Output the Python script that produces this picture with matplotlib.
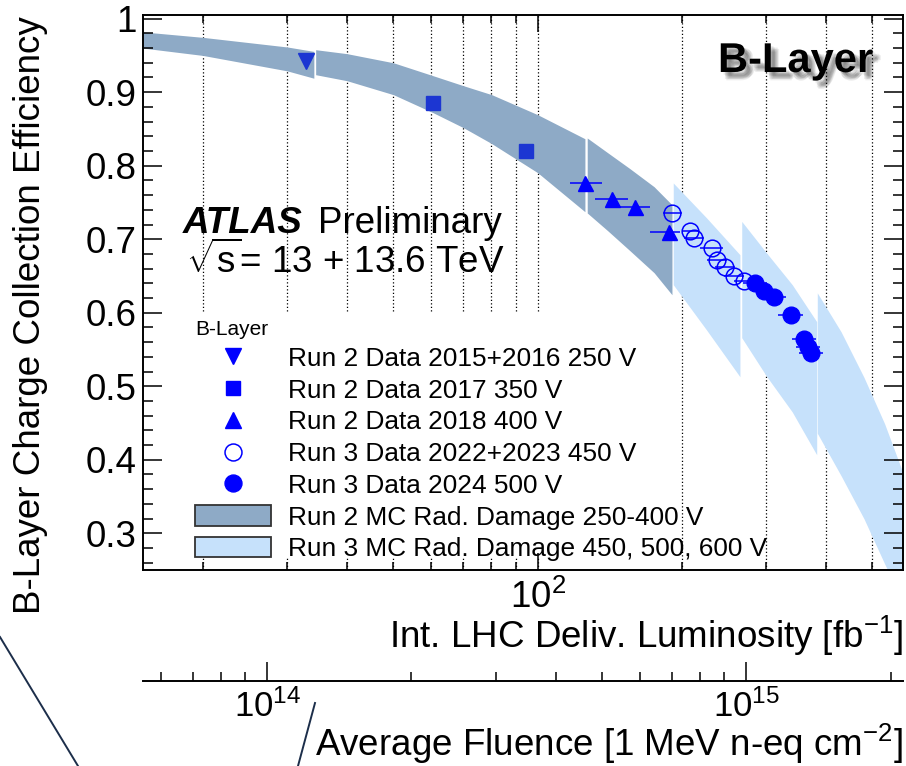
import numpy as np
import matplotlib.pyplot as plt
from matplotlib import ticker
from matplotlib import patheffects as pe
from matplotlib.lines import Line2D
from matplotlib.patches import Patch, Rectangle

plt.rcParams['font.family'] = ['Liberation Sans', 'DejaVu Sans']
plt.rcParams['mathtext.fontset'] = 'custom'
plt.rcParams['mathtext.rm'] = 'Liberation Sans'
plt.rcParams['mathtext.it'] = 'Liberation Sans:italic'
plt.rcParams['mathtext.bf'] = 'Liberation Sans:bold'

# === DATA === #
# x: integrated delivered luminosity [fb^-1], y: charge collection efficiency
lumi_2016 = [32.8]
eff_2016 = [0.943]

lumi_2017 = [60.4, 94.5]
eff_2017 = [0.885, 0.8195]

lumi_2018 = [125.5, 142.7, 159.6, 187.9]
lumi_2018_lo = [116.9, 131.7, 147.3, 172.0]
lumi_2018_hi = [136.4, 154.6, 171.6, 198.0]
eff_2018 = [0.777, 0.755, 0.744, 0.710]

lumi_2023 = [190.4, 208.0, 212.1, 231.5, 236.4, 246.0, 256.9, 269.6]
lumi_2023_lo = [182.8, 199.9, 202.1, 218.2, 225.3, 234.4, 244.8, 256.9]
lumi_2023_hi = [199.9, 216.6, 222.6, 244.1, 248.1, 258.1, 269.6, 282.9]
eff_2023 = [0.7356, 0.7106, 0.7016, 0.688, 0.672, 0.662, 0.650, 0.6426]

lumi_2024 = [284.2, 296.7, 311.9, 338.0, 360.3, 366.3, 372.1]
lumi_2024_lo = [268.3, 280.1, 294.4, 317.6, 340.1, 345.8, 351.2]
lumi_2024_hi = [301.1, 314.3, 330.4, 357.8, 381.7, 388.1, 394.2]
eff_2024 = [0.640, 0.629, 0.621, 0.5963, 0.5642, 0.554, 0.545]

# MC radiation damage bands, one piece per bias voltage
run2_band_lumi = [[15.0, 20.0, 30.0, 34.1],
                  [34.4, 40.0, 50.0, 60.5, 70.0, 80.2, 100.0, 125.5],
                  [126.9, 140.0, 155.8, 175.0, 190.7]]
run2_band_up = [[0.982, 0.9746, 0.9615, 0.9555],
                [0.9578, 0.9524, 0.940, 0.9224, 0.9088, 0.8966, 0.8694, 0.8367],
                [0.8377, 0.8177, 0.796, 0.7714, 0.7469]]
run2_band_lo = [[0.960, 0.950, 0.929, 0.919],
                [0.9238, 0.9156, 0.8966, 0.8721, 0.8517, 0.830, 0.7905, 0.7374],
                [0.7357, 0.7116, 0.6844, 0.6544, 0.6245]]

run3_band_lumi = [[191.9, 225.0, 264.4],
                  [266.7, 300.6, 340.0, 382.4],
                  [383.5, 430.0, 480.0, 530.0, 579.0]]
run3_band_up = [[0.7765, 0.7293, 0.6789],
                [0.7242, 0.6812, 0.6381, 0.5878],
                [0.627, 0.574, 0.512, 0.449, 0.382]]
run3_band_lo = [[0.6381, 0.5769, 0.5129],
                [0.566, 0.5134, 0.465, 0.4068],
                [0.4361, 0.3782, 0.3197, 0.2585, 0.2068]]

FLUENCE_PER_FB = 3.668e12   # 1 MeV n-eq cm^-2 per fb^-1

lumi_major_ticks = [100]
lumi_minor_ticks = [20, 30, 40, 50, 60, 70, 80, 90, 200, 300, 400, 500]
fluence_major_ticks = [1e14, 1e15]
fluence_minor_ticks = [6e13, 7e13, 8e13, 9e13, 2e14, 3e14, 4e14, 5e14,
                       6e14, 7e14, 8e14, 9e14, 2e15]
eff_major_ticks = [0.3, 0.4, 0.5, 0.6, 0.7, 0.8, 0.9, 1.0]
eff_minor_ticks = np.arange(0.26, 1.0, 0.02)

legend_labels = ['Run 2 Data 2015+2016 250 V',
                 'Run 2 Data 2017 350 V',
                 'Run 2 Data 2018 400 V',
                 'Run 3 Data 2022+2023 450 V',
                 'Run 3 Data 2024 500 V',
                 'Run 2 MC Rad. Damage 250-400 V',
                 'Run 3 MC Rad. Damage 450, 500, 600 V']

DARK = '#8eaac6'
LIGHT = '#c6e1fb'
BLUE = '#0000ff'
BLUE2 = '#1c36d2'
FS = 26.5

# === PLOT === #
fig = plt.figure(figsize=(9.06, 7.66), dpi=100)
ax = fig.add_axes([143/906, 1-570/766, 760/906, 555/766])
ax.set_xscale('log')
ax.set_xlim(15, 579)
ax.set_ylim(0.25, 1.005)

# dotted grid at every x tick
for v in lumi_major_ticks + lumi_minor_ticks:
    ax.axvline(v, color='black', lw=0.9, ls=(0, (1, 1.8)), zorder=0.6)

# white legend background hiding the grid
ax.add_patch(Rectangle((0, 13/555), (680-143)/760, (557-313)/555,
                       transform=ax.transAxes, fc='white', ec='none', zorder=0.7))

for l, u, d in zip(run2_band_lumi, run2_band_up, run2_band_lo):
    ax.fill_between(l, d, u, color=DARK, lw=0, zorder=1)
for l, u, d in zip(run3_band_lumi, run3_band_up, run3_band_lo):
    ax.fill_between(l, d, u, color=LIGHT, lw=0, zorder=1)

ax.plot(lumi_2016, eff_2016, 'v', color=BLUE2, ms=11.3, zorder=3)
ax.plot(lumi_2017, eff_2017, 's', color=BLUE2, ms=9.6, zorder=3)

xe = [np.array(lumi_2018) - np.array(lumi_2018_lo), np.array(lumi_2018_hi) - np.array(lumi_2018)]
ax.errorbar(lumi_2018, eff_2018, xerr=xe, fmt='^', color=BLUE, ms=10.8,
            elinewidth=1.1, capsize=0, zorder=3)
xe = [np.array(lumi_2023) - np.array(lumi_2023_lo), np.array(lumi_2023_hi) - np.array(lumi_2023)]
ax.errorbar(lumi_2023, eff_2023, xerr=xe, fmt='o', color=BLUE, mfc='none', mew=1.1,
            ms=12, elinewidth=1.1, capsize=0, zorder=3)
xe = [np.array(lumi_2024) - np.array(lumi_2024_lo), np.array(lumi_2024_hi) - np.array(lumi_2024)]
ax.errorbar(lumi_2024, eff_2024, xerr=xe, fmt='o', color=BLUE, ms=12,
            elinewidth=1.1, capsize=0, zorder=3)

# axes and ticks
for s in ax.spines.values():
    s.set_linewidth(1.4)
ax.xaxis.set_major_locator(ticker.FixedLocator(lumi_major_ticks))
ax.xaxis.set_minor_locator(ticker.FixedLocator(lumi_minor_ticks))
ax.xaxis.set_major_formatter(ticker.LogFormatterMathtext())
ax.xaxis.set_minor_formatter(ticker.NullFormatter())
ax.yaxis.set_major_locator(ticker.FixedLocator(eff_major_ticks))
ax.yaxis.set_minor_locator(ticker.FixedLocator(eff_minor_ticks))
ax.yaxis.set_major_formatter(ticker.FuncFormatter(lambda v, p: '%g' % v))
ax.tick_params(which='both', direction='in', top=True, right=True, width=1.1, labelsize=FS)
ax.tick_params(axis='y', which='major', length=14, pad=4.5)
ax.tick_params(axis='y', which='minor', length=7)
ax.tick_params(axis='x', which='major', length=12, pad=7)
ax.tick_params(axis='x', which='minor', length=6)

ax.text(1.0, (570-648)/555, 'Int. LHC Deliv. Luminosity [fb$^{-1}$]', transform=ax.transAxes,
        ha='right', va='baseline', fontsize=FS)
fig.text(30.5/906, 1-16/766, 'B-Layer Charge Collection Efficiency', rotation=90,
         ha='center', va='top', fontsize=FS)

# fluence axis below
sec = ax.secondary_xaxis(-0.2, functions=(lambda l: l*FLUENCE_PER_FB, lambda f: f/FLUENCE_PER_FB))
sec.xaxis.set_major_locator(ticker.FixedLocator(fluence_major_ticks))
sec.xaxis.set_minor_locator(ticker.FixedLocator(fluence_minor_ticks))
sec.xaxis.set_major_formatter(ticker.LogFormatterMathtext())
sec.xaxis.set_minor_formatter(ticker.NullFormatter())
sec.tick_params(which='both', direction='in', width=1.1, labelsize=25)
sec.tick_params(which='major', length=13.7, pad=6)
sec.tick_params(which='minor', length=6.5)
sec.spines['bottom'].set_linewidth(1.4)
ax.text(1.0, (570-756)/555, 'Average Fluence [1 MeV n-eq cm$^{-2}$]', transform=ax.transAxes,
        ha='right', va='baseline', fontsize=FS)

# labels
ax.text((183-143)/760, (570-233)/555, 'ATLAS', transform=ax.transAxes, fontsize=FS,
        weight='bold', style='italic', va='baseline')
ax.text((318-143)/760, (570-233)/555, 'Preliminary', transform=ax.transAxes, fontsize=FS,
        va='baseline')
ax.text((186-143)/760, (570-273)/555, r'$\sqrt{\mathrm{s}}$= 13 + 13.6 TeV', transform=ax.transAxes,
        fontsize=FS, va='baseline')

shadow = [pe.SimplePatchShadow(offset=(dx, -dy), shadow_rgbFace='black', alpha=0.07)
          for dx, dy in [(2, 2), (3, 3), (4, 4), (5, 5), (3, 5), (5, 3), (4, 6), (6, 4)]]
ax.text((718-143)/760, (570-72)/555, 'B-Layer', transform=ax.transAxes, fontsize=30,
        weight='bold', va='baseline', path_effects=shadow + [pe.Normal()], zorder=5)

# legend
handles = [Line2D([], [], marker='v', ls='none', color=BLUE, ms=12),
           Line2D([], [], marker='s', ls='none', color=BLUE, ms=9.6),
           Line2D([], [], marker='^', ls='none', color=BLUE, ms=12),
           Line2D([], [], marker='o', ls='none', color=BLUE, mfc='none', mew=1.1, ms=12.2),
           Line2D([], [], marker='o', ls='none', color=BLUE, ms=12.2),
           Patch(fc=DARK, ec='#333333', lw=1.3),
           Patch(fc=LIGHT, ec='#333333', lw=1.3)]
ax.legend(handles, legend_labels, loc='upper left', bbox_to_anchor=((195-143)/760, (570-320)/555),
          frameon=False, fontsize=18.9, title='B-Layer', title_fontsize=15, alignment='left',
          handlelength=2.9, handleheight=0.8, handletextpad=0.66, labelspacing=0.29,
          borderpad=0, borderaxespad=0)

# slide decoration lines from the screenshot
fig.add_artist(Line2D([0, 78/906], [1-637/766, 0], color='#1c2e4a', lw=1.4))
fig.add_artist(Line2D([315/906, 298/906], [1-703/766, 0], color='#1c2e4a', lw=1.4))

fig.savefig('out.png', dpi=100)
